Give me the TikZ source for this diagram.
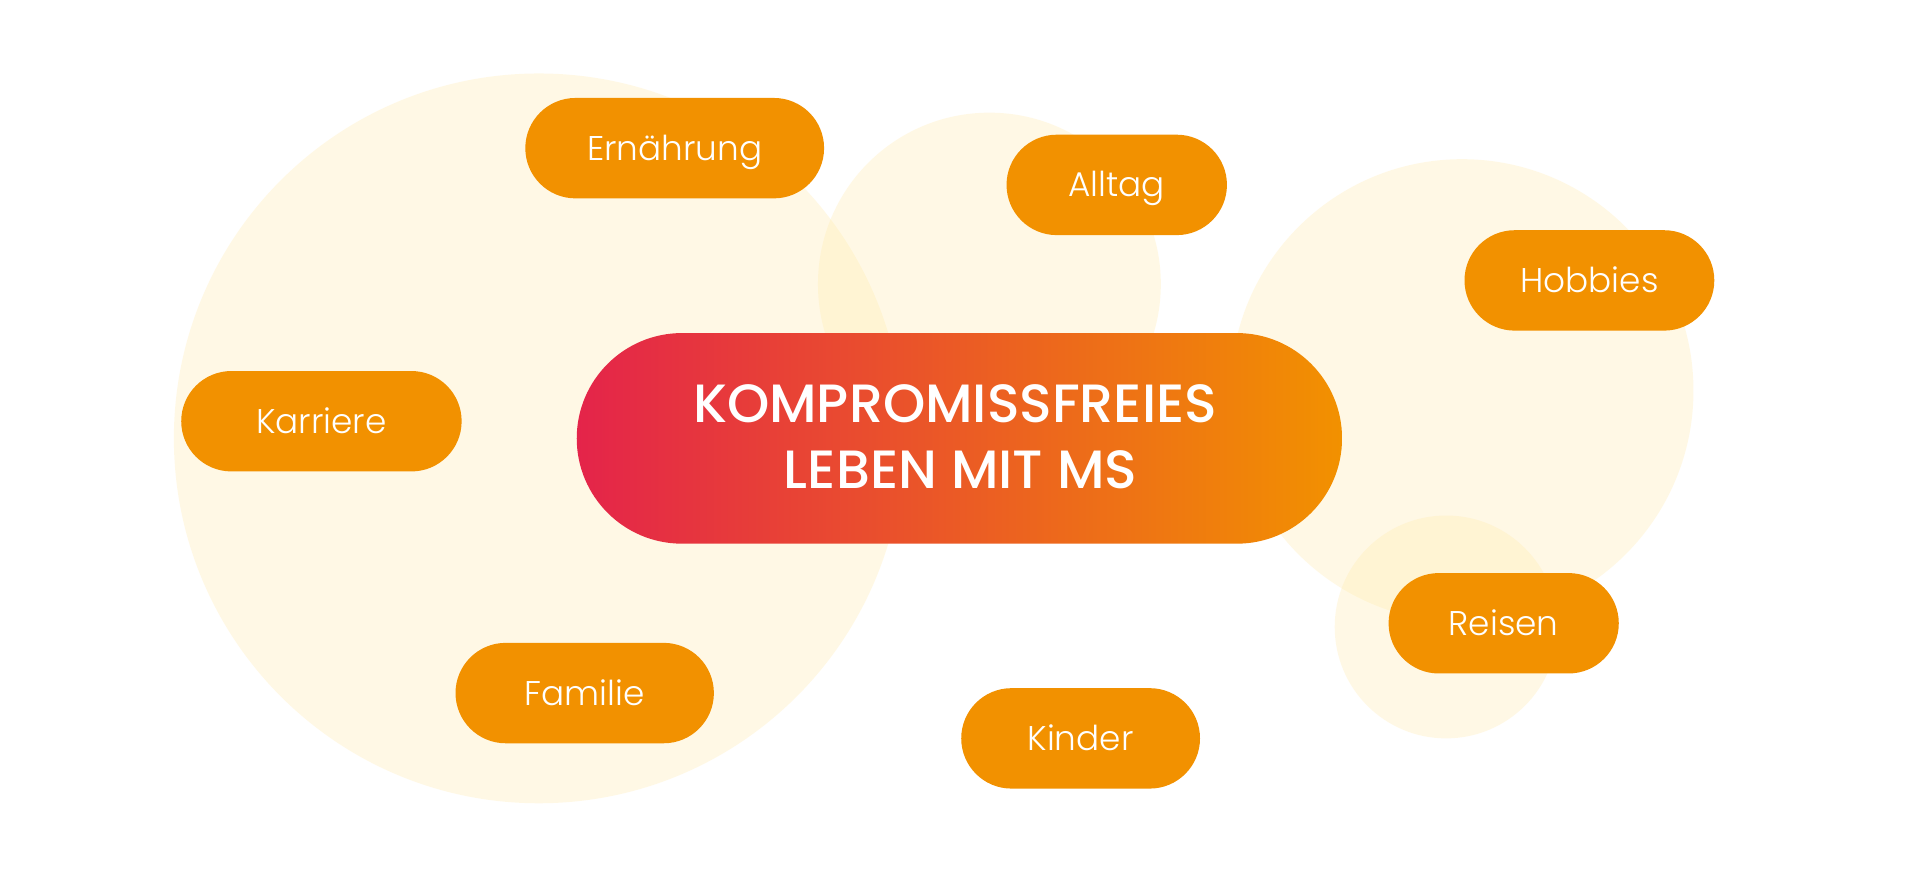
\documentclass[tikz,border=0pt]{standalone}
\usepackage{fontspec}
\newfontfamily\lightfont{Poppins}[UprightFont={* Light}]
\newfontfamily\titlefont{Poppins}[UprightFont={* Medium}]
\definecolor{pillorange}{HTML}{F29100}
\definecolor{gradred}{HTML}{E4244A}
\definecolor{bubble}{HTML}{FFEBAA}
\tikzset{
  bubblecircle/.style={fill=bubble, fill opacity=0.3, draw=none},
  pill/.style={fill=pillorange, draw=none, rounded corners=41pt, minimum height=82pt,
    inner sep=0pt, text=white, font=\lightfont\fontsize{28}{34}\selectfont,
    text height=19.6pt, text depth=0pt},
  titlepill/.style={left color=gradred, right color=pillorange, draw=none, rounded corners=86pt,
    minimum height=172pt, minimum width=625pt, inner sep=0pt},
  titletext/.style={text=white, align=center, inner sep=0pt,
    font=\titlefont\fontsize{44}{54}\selectfont}
}
\begin{document}
\begin{tikzpicture}[x=1pt,y=-1pt]
\fill[white] (0,0) rectangle (1568,717);
\useasboundingbox (0,0) rectangle (1568,717);
% background bubbles
\fill[bubblecircle] (440,358) circle[radius=298];
\fill[bubblecircle] (808,232) circle[radius=140];
\fill[bubblecircle] (1194,319) circle[radius=189];
\fill[bubblecircle] (1181,512) circle[radius=91];
% pills
\node[pill, minimum width=244pt] (ern) at (551,121) {Ernährung};
\node[pill, minimum width=180pt] (all) at (912,151) {Alltag};
\node[pill, minimum width=204pt] (hob) at (1298,229) {Hobbies};
\node[pill, minimum width=229pt] (kar) at (262.5,344) {Karriere};
\node[pill, minimum width=188pt] (rei) at (1228,509) {Reisen};
\node[pill, minimum width=211pt] (fam) at (477.5,566) {Familie};
\node[pill, minimum width=195pt] (kin) at (882.5,603) {Kinder};
\node[titlepill] (center) at (783.5,358) {};
\node[titletext, anchor=base] (title1) at (780,345) {KOMPROMISSFREIES};
\node[titletext, anchor=base] (title2) at (784.5,399) {LEBEN MIT MS};
\end{tikzpicture}
\end{document}
